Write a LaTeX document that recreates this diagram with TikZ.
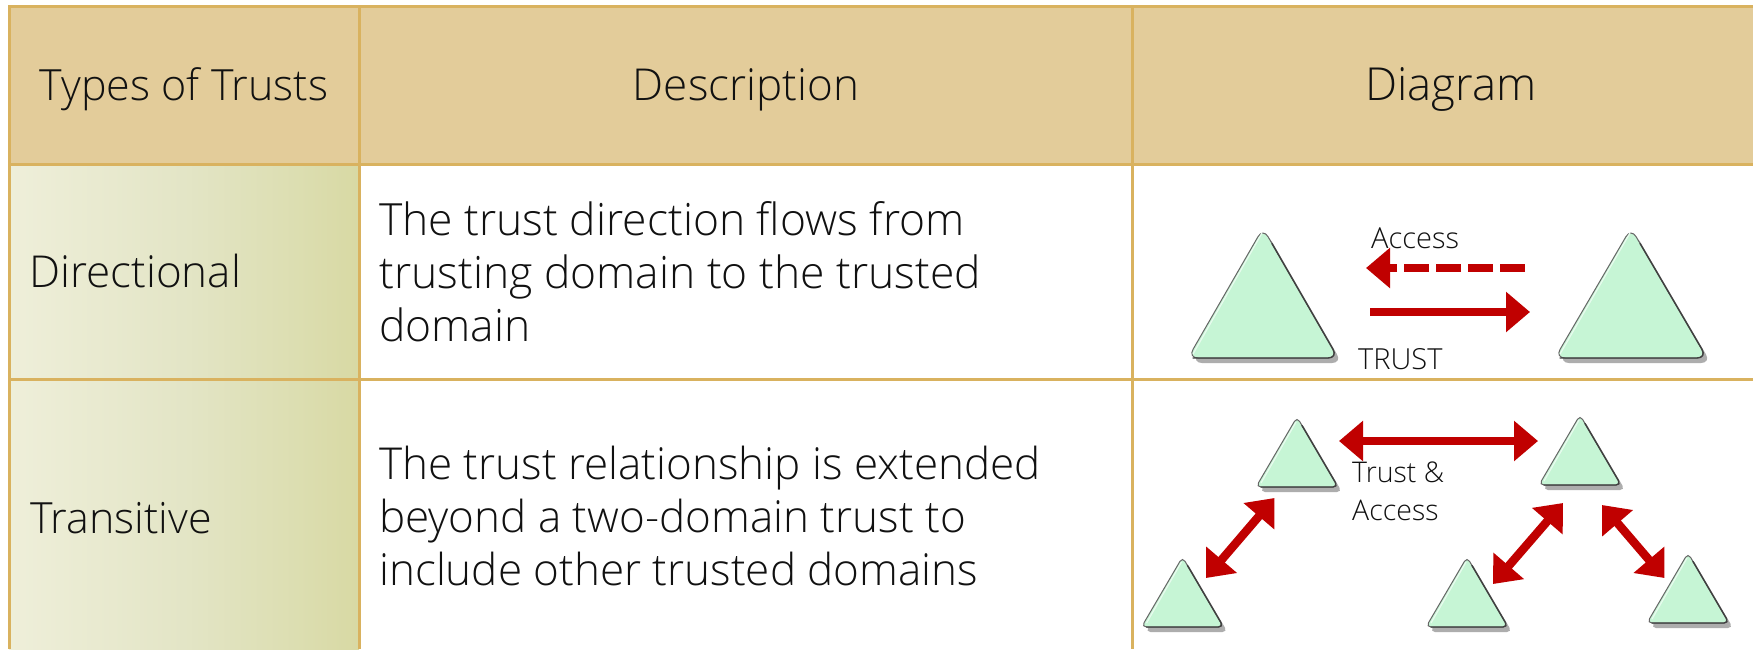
\documentclass[tikz,border=0pt]{standalone}
\usepackage{fontspec}
\setmainfont{Open Sans Light}
\usetikzlibrary{arrows.meta}
\definecolor{hdr}{HTML}{E3CC9A}
\definecolor{rule}{HTML}{D9B25F}
\definecolor{red1}{HTML}{C00000}
\definecolor{tri}{HTML}{C6F5D5}
\definecolor{ink}{HTML}{111111}
\definecolor{gradA}{HTML}{F0F0DC}
\definecolor{gradB}{HTML}{E3E5C6}
\definecolor{gradD}{HTML}{DCDEB1}
\definecolor{gradC}{HTML}{D6D69C}
\pgfdeclarehorizontalshading{cellgrad}{100bp}{
  color(0bp)=(gradA); color(22bp)=(gradA); color(50bp)=(gradB); color(66bp)=(gradD); color(80bp)=(gradC); color(100bp)=(gradC)}
\tikzset{
  x=1pt,y=-1pt,
  gridline/.style={draw=rule,line width=3pt},
  head/.style={anchor=base,font=\fontsize{44}{53}\selectfont,text=ink,inner sep=0pt},
  rowlabel/.style={anchor=base west,font=\fontsize{44}{53}\selectfont,text=ink,inner sep=0pt},
  body/.style={anchor=north west,align=left,font=\fontsize{44.4}{53}\selectfont,text=ink,inner sep=0pt},
  small/.style={anchor=base west,font=\fontsize{29}{38}\selectfont,text=ink,inner sep=0pt},
  smallblock/.style={anchor=north west,align=left,font=\fontsize{28.5}{38}\selectfont,text=ink,inner sep=0pt},
  solidarrow/.style={draw=red1,line width=8.5pt,-{Triangle[length=24pt,width=39pt]}},
  dasharrow/.style={solidarrow,dash pattern=on 25pt off 7pt},
  bothways/.style={draw=red1,line width=8.5pt,{Triangle[length=24pt,width=39pt]}-{Triangle[length=24pt,width=39pt]}},
  pics/domain/.style args={#1/#2/#3}{code={
    \fill[black!32,rounded corners=#3] (-#1+4,#2+5) -- (4,5) -- (#1+4,#2+5) -- cycle;
    \filldraw[fill=tri,draw=black!60,line width=1pt,rounded corners=#3] (-#1,#2) -- (0,0) -- (#1,#2) -- cycle;
    \draw[black!75,line width=1.4pt,rounded corners=#3,line cap=round] (-#1+5,#2) -- (#1,#2) -- ({0.12*#1},{0.12*#2});
    \draw[white!60!tri,line width=1.2pt] (-#1+5,#2-4) -- (-1,5);
  }}
}
\begin{document}
\begin{tikzpicture}
\useasboundingbox (0,0) rectangle (1753,649);
\fill[white] (0,0) rectangle (1753,649);
% table fills
\fill[hdr] (9,6) rectangle (1753,164);
\shade[shading=cellgrad] (9,164) rectangle (359,649);
% grid
\draw[gridline] (9,649) -- (9,6) -- (1753,6);
\draw[gridline] (9,164) -- (1753,164);
\draw[gridline] (9,379) -- (1753,379);
\draw[gridline] (359,6) -- (359,649);
\draw[gridline] (1132,6) -- (1132,649);
% header text
\node[head,font=\fontsize{43}{53}\selectfont] (h1) at (184,100) {Types of Trusts};
\node[head] (h2) at (746,100) {Description};
\node[head,font=\fontsize{45.5}{53}\selectfont] (h3) at (1451,100) {Diagram};
% rows
\node[rowlabel] (r1) at (29,287) {Directional};
\node[rowlabel,font=\fontsize{43}{53}\selectfont] (r2) at (30,533) {Transitive};
\node[body] (d1) at (379,201) {The trust direction flows from\\trusting domain to the trusted\\domain};
\node[body,font=\fontsize{44}{53}\selectfont] (d2) at (379,446) {The trust relationship is extended\\beyond a two-domain trust to\\include other trusted domains};
% directional diagram
\pic (ta) at (1263,228) {domain={75/130/10pt}};
\pic (tb) at (1631,228) {domain={76/130/10pt}};
\node[small] (lacc) at (1371,248) {Access};
\node[small] (ltru) at (1358,369) {TRUST};
\coordinate (da1) at (1525,268);
\coordinate (da2) at (1366,268);
\coordinate (sa1) at (1370,312);
\coordinate (sa2) at (1530,312);
\draw[dasharrow] (da1) -- (da2);
\draw[solidarrow] (sa1) -- (sa2);
% transitive diagram
\pic (t1) at (1297,417) {domain={41/70/5pt}};
\pic (t2) at (1580,415) {domain={41/70/5pt}};
\pic (t3) at (1182.5,557) {domain={41/70/5pt}};
\pic (t4) at (1467,557) {domain={41/70/5pt}};
\pic (t5) at (1688,553) {domain={41/70/5pt}};
\coordinate (b0a) at (1339,441);
\coordinate (b0b) at (1538,441);
\coordinate (b1a) at (1274.5,498);
\coordinate (b1b) at (1206,578);
\coordinate (b2a) at (1563,503);
\coordinate (b2b) at (1493,584);
\coordinate (b3a) at (1602,505);
\coordinate (b3b) at (1664.5,578);
\draw[bothways] (b0a) -- (b0b);
\draw[bothways] (b1a) -- (b1b);
\draw[bothways] (b2a) -- (b2b);
\draw[bothways] (b3a) -- (b3b);
\node[smallblock] (lta) at (1352,462) {Trust \&\\Access};
\end{tikzpicture}
\end{document}
